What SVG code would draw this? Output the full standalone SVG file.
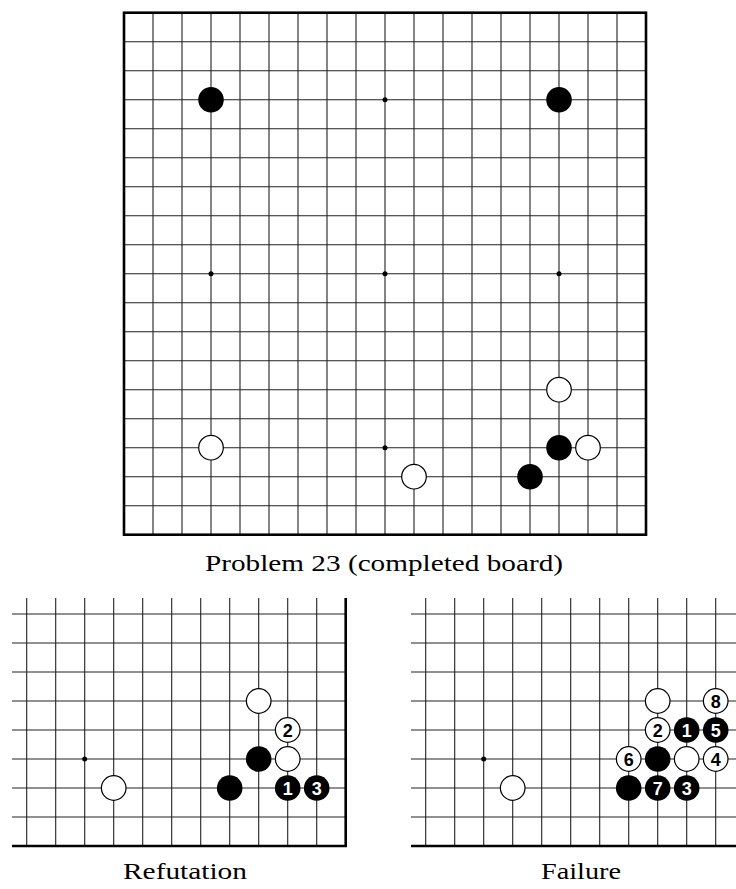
<svg xmlns="http://www.w3.org/2000/svg" xmlns:xlink="http://www.w3.org/1999/xlink" width="736" height="889" viewBox="0 0 736 889">
<style>
.grid{fill:none;stroke:#222;stroke-width:1.1}
.edge{fill:none;stroke:#000;stroke-width:2.6}
.b{fill:#000}
.w{fill:#fff;stroke:#000;stroke-width:1.2}
.star{fill:#000}
.nb{font-family:"Liberation Sans",Arial,sans-serif;font-weight:bold;font-size:18px;text-anchor:middle;fill:#000}
.nw{font-family:"Liberation Sans",Arial,sans-serif;font-weight:bold;font-size:18px;text-anchor:middle;fill:#fff}
.cap{font-family:"Liberation Serif","Times New Roman",serif;font-size:23px;fill:#000;text-anchor:middle}
</style>
<defs>
<g id="partgrid">
<path class="grid" d="M26.7 598V846M55.7 598V846M84.7 598V846M113.7 598V846M142.7 598V846M171.7 598V846M200.7 598V846M229.7 598V846M258.7 598V846M287.7 598V846M316.7 598V846M12 614H345.7M12 643H345.7M12 672H345.7M12 701H345.7M12 730H345.7M12 759H345.7M12 788H345.7M12 817H345.7"/>
<path class="edge" d="M345.7 598V846H12"/>
</g>
</defs>
<g id="main-board">
<path class="grid" d="M153 12.7V534.7M182 12.7V534.7M211 12.7V534.7M240 12.7V534.7M269 12.7V534.7M298 12.7V534.7M327 12.7V534.7M356 12.7V534.7M385 12.7V534.7M414 12.7V534.7M443 12.7V534.7M472 12.7V534.7M501 12.7V534.7M530 12.7V534.7M559 12.7V534.7M588 12.7V534.7M617 12.7V534.7M124 41.7H646M124 70.7H646M124 99.7H646M124 128.7H646M124 157.7H646M124 186.7H646M124 215.7H646M124 244.7H646M124 273.7H646M124 302.7H646M124 331.7H646M124 360.7H646M124 389.7H646M124 418.7H646M124 447.7H646M124 476.7H646M124 505.7H646"/>
<rect class="edge" x="124" y="12.7" width="522" height="522"/>
<circle class="star" cx="385" cy="99.7" r="2.5"/>
<circle class="star" cx="211" cy="273.7" r="2.5"/>
<circle class="star" cx="385" cy="273.7" r="2.5"/>
<circle class="star" cx="559" cy="273.7" r="2.5"/>
<circle class="star" cx="385" cy="447.7" r="2.5"/>
</g>
<g id="main-stones">
<g id="m-b1"><circle class="b" cx="211" cy="99.7" r="12.8"/></g>
<g id="m-b2"><circle class="b" cx="559" cy="99.7" r="12.8"/></g>
<g id="m-w1"><circle class="w" cx="559" cy="389.7" r="12.3"/></g>
<g id="m-b3"><circle class="b" cx="559" cy="447.7" r="12.8"/></g>
<g id="m-w2"><circle class="w" cx="588" cy="447.7" r="12.3"/></g>
<g id="m-w3"><circle class="w" cx="211" cy="447.7" r="12.3"/></g>
<g id="m-b4"><circle class="b" cx="530" cy="476.7" r="12.8"/></g>
<g id="m-w4"><circle class="w" cx="414" cy="476.7" r="12.3"/></g>
</g>
<text class="cap" x="384" y="571" textLength="358" lengthAdjust="spacingAndGlyphs">Problem 23 (completed board)</text>
<g id="refutation-board">
<use xlink:href="#partgrid"/>
<circle class="star" cx="84.7" cy="759" r="2.5"/>
</g>
<g id="refutation-stones">
<g id="r-w1"><circle class="w" cx="258.7" cy="701" r="12.3"/></g>
<g id="r-w2"><circle class="w" cx="287.7" cy="730" r="12.3"/><text class="nb" x="287.7" y="736.5">2</text></g>
<g id="r-b1"><circle class="b" cx="258.7" cy="759" r="12.8"/></g>
<g id="r-w3"><circle class="w" cx="287.7" cy="759" r="12.3"/></g>
<g id="r-w4"><circle class="w" cx="113.7" cy="788" r="12.3"/></g>
<g id="r-b2"><circle class="b" cx="229.7" cy="788" r="12.8"/></g>
<g id="r-b3"><circle class="b" cx="287.7" cy="788" r="12.8"/><text class="nw" x="287.7" y="794.5">1</text></g>
<g id="r-b4"><circle class="b" cx="316.7" cy="788" r="12.8"/><text class="nw" x="316.7" y="794.5">3</text></g>
</g>
<text class="cap" x="185" y="879" textLength="124" lengthAdjust="spacingAndGlyphs">Refutation</text>
<g id="failure-board">
<use xlink:href="#partgrid" transform="translate(399 0)"/>
<circle class="star" cx="483.7" cy="759" r="2.5"/>
</g>
<g id="failure-stones">
<g id="f-w1"><circle class="w" cx="657.7" cy="701" r="12.3"/></g>
<g id="f-w8"><circle class="w" cx="715.7" cy="701" r="12.3"/><text class="nb" x="715.7" y="707.5">8</text></g>
<g id="f-w2"><circle class="w" cx="657.7" cy="730" r="12.3"/><text class="nb" x="657.7" y="736.5">2</text></g>
<g id="f-b1"><circle class="b" cx="686.7" cy="730" r="12.8"/><text class="nw" x="686.7" y="736.5">1</text></g>
<g id="f-b5"><circle class="b" cx="715.7" cy="730" r="12.8"/><text class="nw" x="715.7" y="736.5">5</text></g>
<g id="f-w6"><circle class="w" cx="628.7" cy="759" r="12.3"/><text class="nb" x="628.7" y="765.5">6</text></g>
<g id="f-b2"><circle class="b" cx="657.7" cy="759" r="12.8"/></g>
<g id="f-w3"><circle class="w" cx="686.7" cy="759" r="12.3"/></g>
<g id="f-w4"><circle class="w" cx="715.7" cy="759" r="12.3"/><text class="nb" x="715.7" y="765.5">4</text></g>
<g id="f-w5"><circle class="w" cx="512.7" cy="788" r="12.3"/></g>
<g id="f-b3"><circle class="b" cx="628.7" cy="788" r="12.8"/></g>
<g id="f-b7"><circle class="b" cx="657.7" cy="788" r="12.8"/><text class="nw" x="657.7" y="794.5">7</text></g>
<g id="f-b4"><circle class="b" cx="686.7" cy="788" r="12.8"/><text class="nw" x="686.7" y="794.5">3</text></g>
</g>
<text class="cap" x="581" y="879" textLength="80" lengthAdjust="spacingAndGlyphs">Failure</text>
</svg>
